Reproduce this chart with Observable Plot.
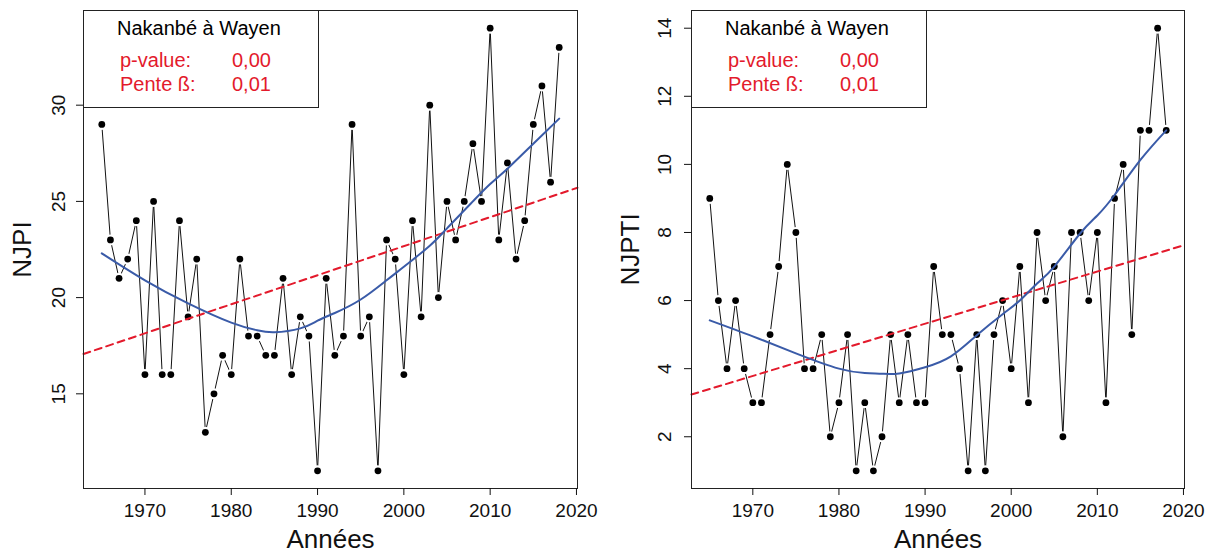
<!DOCTYPE html>
<html><head><meta charset="utf-8">
<script src="https://cdn.jsdelivr.net/npm/d3@7"></script>
<script src="https://cdn.jsdelivr.net/npm/@observablehq/plot@0.6"></script>
<style>
body{margin:0;background:#fff;font-family:"Liberation Sans",Arial,sans-serif;}
#wrap{position:relative;width:1213px;height:553px;display:flex;}
.panel{position:relative;}
.panel svg{display:block;}
.legend{position:absolute;top:10px;width:236px;height:98px;border:1px solid #222;box-sizing:border-box;background:#fff;font-size:20px;line-height:normal;}
.legend span{position:absolute;white-space:nowrap;}
.legend .red{color:#e31a2c;}
</style>
</head><body>
<div id="wrap"></div>
<script>
const years = [1965,1966,1967,1968,1969,1970,1971,1972,1973,1974,1975,1976,1977,1978,1979,1980,1981,1982,1983,1984,1985,1986,1987,1988,1989,1990,1991,1992,1993,1994,1995,1996,1997,1998,1999,2000,2001,2002,2003,2004,2005,2006,2007,2008,2009,2010,2011,2012,2013,2014,2015,2016,2017,2018];
const njpi = [29,23,21,22,24,16,25,16,16,24,19,22,13,15,17,16,22,18,18,17,17,21,16,19,18,11,21,17,18,29,18,19,11,23,22,16,24,19,30,20,25,23,25,28,25,34,23,27,22,24,29,31,26,33];
const njpti = [9,6,4,6,4,3,3,5,7,10,8,4,4,5,2,3,5,1,3,1,2,5,3,5,3,3,7,5,5,4,1,5,1,5,6,4,7,3,8,6,7,2,8,8,6,8,3,9,10,5,11,11,14,11];

// loess-like smooth curves
const smoothYearsL = [1965,1970,1975,1980,1983,1985,1988,1990,1992,1995,1998,2000,2003,2005,2008,2010,2012,2015,2018];
const smoothL = [22.3,20.9,19.7,18.7,18.3,18.2,18.4,18.8,19.2,19.9,20.9,21.6,22.7,23.6,25.0,25.9,26.7,28.0,29.3];
const smoothYearsR = [1965,1970,1975,1980,1983,1985,1987,1990,1993,1996,1999,2001,2003,2005,2008,2010,2012,2015,2018];
const smoothR = [5.42,4.95,4.45,4.0,3.87,3.85,3.86,4.04,4.36,4.98,5.6,6.0,6.5,7.0,7.97,8.5,9.1,10.13,11.0];

// linear trend (abline) endpoints at plot edges
const trendX = [1962.88, 2020.12];
const trendL = [17.07, 25.71];
const trendR = [3.24, 7.63];

const xTicks = [1970,1980,1990,2000,2010,2020];
const yTicksL = [15,20,25,30];
const yTicksR = [2,4,6,8,10,12,14];

const xTitle = "Années";
const station = "Nakanbé à Wayen";
const pLabel = "p-value:", pValue = "0,00";
const sLabel = "Pente ß:", sValue = "0,01";

const FONT = '"Liberation Sans", Arial, sans-serif';

function makePanel({values, smoothX, smoothY, trendY, yDomain, yTicks, yLabel, width, marginLeft, tickPad}) {
  const data = years.map((yr, i) => ({year: yr, v: values[i]}));
  const smooth = smoothX.map((x, i) => ({x, y: smoothY[i]}));
  const trend = trendX.map((x, i) => ({x, y: trendY[i]}));
  const svg = Plot.plot({
    width, height: 553,
    marginLeft, marginRight: 29, marginTop: 10, marginBottom: 65,
    x: {domain: [1962.88, 2020.12]},
    y: {domain: yDomain},
    style: {fontFamily: FONT, fontSize: "19px", background: "transparent", color: "#111"},
    marks: [
      Plot.line(data, {x: "year", y: "v", stroke: "#111", strokeWidth: 1}),
      Plot.dot(data, {x: "year", y: "v", r: 5.5, fill: "white"}),
      Plot.dot(data, {x: "year", y: "v", r: 3.4, fill: "black"}),
      Plot.line(trend, {x: "x", y: "y", stroke: "#e31a2c", strokeWidth: 2, strokeDasharray: "7,5"}),
      Plot.line(smooth, {x: "x", y: "y", stroke: "#3a5ba8", strokeWidth: 2, curve: "natural"}),
      Plot.frame({stroke: "#222"}),
      Plot.axisX({ticks: xTicks, tickFormat: d => String(d), tickSize: 7, tickPadding: 8, fontSize: 19, label: null}),
      Plot.axisY({ticks: yTicks, tickFormat: d => String(d), tickRotate: -90, tickSize: 7, tickPadding: tickPad, fontSize: 19, label: null}),
      Plot.text([yLabel], {frameAnchor: "left", dx: -61, rotate: -90, textAnchor: "middle", lineAnchor: "middle", fontSize: 26, text: d => d}),
      Plot.text([xTitle], {frameAnchor: "bottom", dy: 59, textAnchor: "middle", lineAnchor: "bottom", fontSize: 26, text: d => d})
    ]
  });
  const div = document.createElement("div");
  div.className = "panel";
  div.style.width = width + "px";
  div.appendChild(svg);
  const lg = document.createElement("div");
  lg.className = "legend";
  lg.style.left = marginLeft + "px";
  lg.innerHTML =
    `<span style="left:33px;top:6px">${station}</span>` +
    `<span class="red" style="left:36px;top:37.5px">${pLabel}</span>` +
    `<span class="red" style="left:148px;top:37.5px">${pValue}</span>` +
    `<span class="red" style="left:36px;top:61.5px">${sLabel}</span>` +
    `<span class="red" style="left:148px;top:61.5px">${sValue}</span>`;
  div.appendChild(lg);
  return div;
}

const wrap = document.getElementById("wrap");
wrap.appendChild(makePanel({values: njpi, smoothX: smoothYearsL, smoothY: smoothL, trendY: trendL,
  yDomain: [10.08, 34.92], yTicks: yTicksL, yLabel: "NJPI", width: 606, marginLeft: 83, tickPad: 12}));
wrap.appendChild(makePanel({values: njpti, smoothX: smoothYearsR, smoothY: smoothR, trendY: trendR,
  yDomain: [0.48, 14.52], yTicks: yTicksR, yLabel: "NJPTI", width: 607, marginLeft: 85, tickPad: 14}));
</script>
</body></html>
